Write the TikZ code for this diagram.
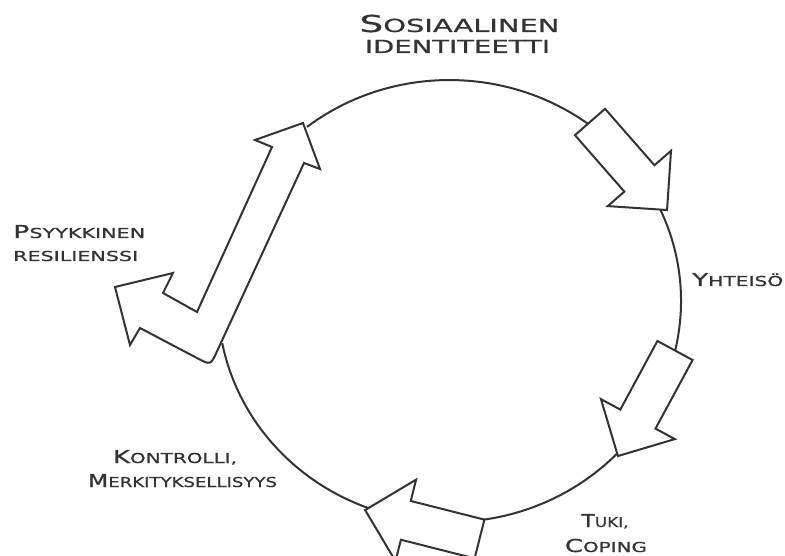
\documentclass[tikz,border=0pt]{standalone}
\usepackage{graphicx}
\usepackage{fontspec}
\newfontfamily\cpf[FakeBold=0.6]{DejaVu Sans}
\definecolor{ink}{HTML}{333333}
% fake small caps: first letter large, rest small
\newcommand\capsL[2]{{\fontsize{17.8}{20}\selectfont#1}{\fontsize{13.7}{16}\selectfont#2}}
\newcommand\capsS[1]{{\fontsize{13.7}{16}\selectfont#1}}
\newcommand\capsT[2]{{\fontsize{23.3}{26}\selectfont#1}{\fontsize{18}{20}\selectfont#2}}
\newcommand\wtext[2]{\resizebox{#1pt}{\height}{#2}}
% block arrow: name, tail midpoint, angle, length
\newcommand\blockarrow[4]{%
  \begin{scope}[shift={#2}, rotate=#3]
    \draw[arrowbox] (0,-20) coordinate (#1-tl) -- (#4-42,-20) -- (#4-42,-42)
      -- (#4,0) coordinate (#1-tip) -- (#4-42,42) -- (#4-42,20) -- (0,20) coordinate (#1-tr) -- cycle;
  \end{scope}}

\begin{document}
\begin{tikzpicture}[x=1pt,y=-1pt,
  arrowbox/.style={draw=ink, fill=white, line width=2pt, line join=miter},
  ring/.style={draw=ink, line width=2pt},
  lbl/.style={inner sep=0pt, text=ink, font=\cpf}]
\useasboundingbox (0,0) rectangle (785,556);
\clip (0,0) rectangle (785,556);
\fill[white] (0,0) rectangle (785,556);

% the cycle (open on the upper left, where the bent arrow takes over)
\coordinate (ringstart) at (307,126.9);
\draw[ring] (ringstart) arc [start angle=232, end angle=529, x radius=231.5, y radius=221];

% straight block arrows on the ring
\blockarrow{a1}{(590,122)}{-48.8}{117}
\blockarrow{a2}{(675,350.5)}{-118.4}{120}
\blockarrow{a3}{(479.5,539)}{165.8}{118}

% bent double arrow on the left
\draw[arrowbox] (303,123) coordinate (b-tip1) -- (320,169) -- (304,163) -- (216.9,351.6)
  .. controls (210.6,365.2) .. (197.3,358.2) -- (140,328) -- (130,345)
  -- (115,287) coordinate (b-tip2) -- (173,273) -- (163,293) -- (197,312)
  -- (272,147) -- (255,140) -- cycle;

% labels
\node[lbl, anchor=base] (t1) at (459.5,32) {\wtext{200}{\capsT{S}{OSIAALINEN}}};
\node[lbl, anchor=base] (t2) at (457.5,53) {\wtext{185}{{\fontsize{18}{20}\selectfont IDENTITEETTI}}};
\node[lbl, anchor=base west] (p1) at (13,238) {\wtext{132}{\capsL{P}{SYYKKINEN}}};
\node[lbl, anchor=base west] (p2) at (13,261) {\wtext{125}{\capsS{RESILIENSSI}}};
\node[lbl, anchor=base west] (y1) at (692,286) {\wtext{91}{\capsL{Y}{HTEISÖ}}};
\node[lbl, anchor=base] (k1) at (175,463) {\wtext{124}{\capsL{K}{ONTROLLI,}}};
\node[lbl, anchor=base] (k2) at (182.5,487) {\wtext{189}{\capsL{M}{ERKITYKSELLISYYS}}};
\node[lbl, anchor=base] (c1) at (605,527) {\wtext{47}{\capsL{T}{UKI,}}};
\node[lbl, anchor=base] (c2) at (606,552) {\wtext{82}{\capsL{C}{OPING}}};
\end{tikzpicture}
\end{document}
